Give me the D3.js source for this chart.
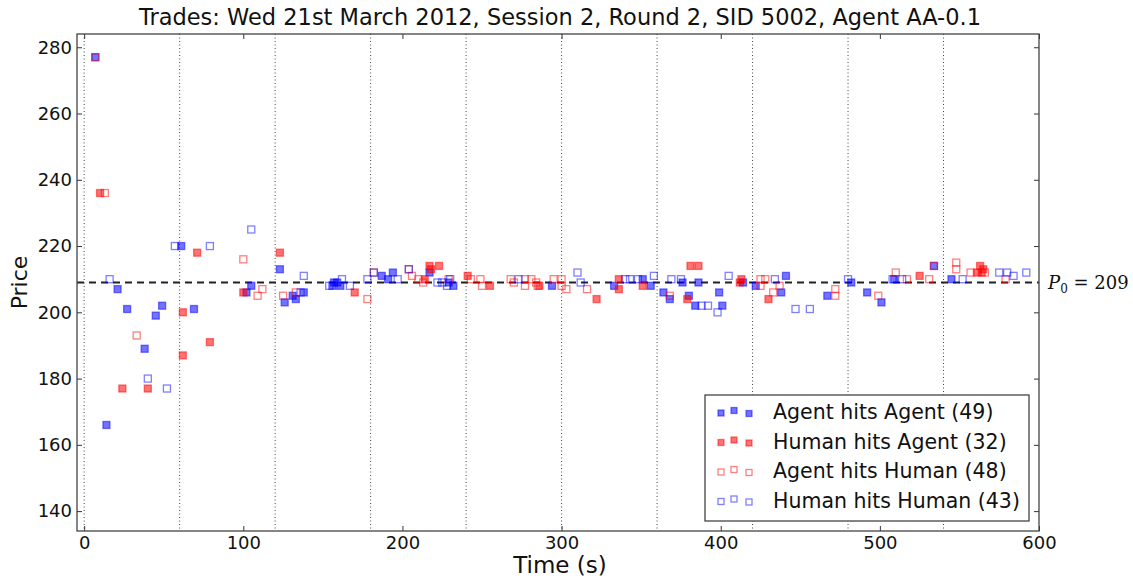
<!DOCTYPE html>
<html>
<head>
<meta charset="utf-8">
<script src="https://cdn.jsdelivr.net/npm/d3@7"></script>
<style>
  body { margin: 0; background: #fff; }
  svg { display: block; font-family: "DejaVu Sans", sans-serif; }
</style>
</head>
<body>
<svg id="chart" width="1133" height="578"></svg>
<script>
// trades as [time (s), price]
var agentHitsAgent = [
  [7, 277], [14, 166], [21, 207], [27, 201], [38, 189], [45, 199], [49, 202], [61, 220], [69, 201],
  [102, 206], [105, 208], [123, 213], [126, 203], [131, 205], [133, 204], [138, 206], [156, 208],
  [157, 209], [159, 209], [161, 208], [187, 211], [191, 210], [194, 212], [217, 212], [232, 208],
  [294, 208], [333, 208], [351, 210], [356, 208], [364, 206], [368, 204], [376, 209], [380, 205],
  [384, 202], [386, 209], [399, 206], [401, 202], [414, 209], [422, 208], [438, 206], [441, 211],
  [467, 205], [482, 209], [492, 206], [501, 203], [509, 210], [534, 214], [545, 210], [229, 209]
];
var humanHitsAgent = [
  [10, 236], [24, 177], [40, 177], [62, 200], [62, 187], [71, 218], [79, 191], [100, 206],
  [123, 218], [170, 206], [214, 210], [217, 214], [218, 213], [223, 214], [241, 211], [255, 208],
  [286, 208], [322, 204], [336, 210], [336, 207], [351, 208], [379, 204], [381, 214], [386, 214],
  [412, 209], [413, 210], [430, 204], [525, 211], [561, 212], [563, 214], [564, 212], [565, 213]
];
var agentHitsHuman = [
  [7, 277], [13, 236], [33, 193], [100, 216], [109, 205], [112, 207], [125, 205], [133, 206],
  [178, 204], [182, 212], [204, 213], [206, 211], [210, 210], [213, 209], [229, 210], [243, 210],
  [249, 210], [250, 208], [268, 210], [270, 209], [277, 210], [277, 208], [281, 210], [284, 209],
  [285, 208], [295, 210], [300, 210], [300, 208], [303, 207], [316, 207], [368, 205], [425, 210],
  [425, 208], [428, 210], [433, 206], [437, 208], [472, 207], [472, 205], [499, 205], [510, 212],
  [517, 210], [531, 210], [534, 214], [548, 215], [548, 213], [557, 212], [566, 212], [579, 210]
];
var humanHitsHuman = [
  [16, 210], [40, 180], [52, 177], [57, 220], [79, 220], [105, 225], [136, 206], [138, 211],
  [154, 208], [162, 210], [167, 208], [178, 210], [182, 212], [197, 210], [204, 213], [222, 209],
  [225, 209], [228, 208], [230, 210], [273, 210], [310, 212], [312, 209], [340, 210], [343, 210],
  [348, 210], [358, 211], [369, 210], [375, 210], [388, 202], [392, 202], [398, 200], [405, 211],
  [434, 210], [447, 201], [456, 201], [480, 210], [508, 210], [514, 210], [552, 210], [575, 212],
  [580, 212], [584, 211], [592, 212]
];

var seriesNames = ["Agent hits Agent (49)", "Human hits Agent (32)", "Agent hits Human (48)", "Human hits Human (43)"];
var xTicks = [0, 100, 200, 300, 400, 500, 600];
var yTicks = [140, 160, 180, 200, 220, 240, 260, 280];
var minuteMarks = [0, 60, 120, 180, 240, 300, 360, 420, 480, 540];
var equilibrium = 209;

var series = [
  { data: agentHitsAgent, color: "#0000ff", filled: true },
  { data: humanHitsAgent, color: "#ff0000", filled: true },
  { data: agentHitsHuman, color: "#ff0000", filled: false },
  { data: humanHitsHuman, color: "#0000ff", filled: false }
];

var width = 1133, height = 578;
var margin = { top: 34, right: 94, bottom: 47, left: 77 };

var svg = d3.select("#chart");

var x = d3.scaleLinear()
  .domain([-4.5, 600])
  .range([margin.left, width - margin.right]);

var y = d3.scaleLinear()
  .domain([134, 284])
  .range([height - margin.bottom, margin.top]);

// dotted minute lines
svg.append("g")
  .selectAll("line")
  .data(minuteMarks)
  .join("line")
  .attr("x1", d => x(d)).attr("x2", d => x(d))
  .attr("y1", margin.top).attr("y2", height - margin.bottom)
  .attr("stroke", "#444")
  .attr("stroke-width", 1)
  .attr("stroke-dasharray", "1,2.5");

// equilibrium price
svg.append("line")
  .attr("x1", x.range()[0]).attr("x2", x.range()[1])
  .attr("y1", y(equilibrium)).attr("y2", y(equilibrium))
  .attr("stroke", "#222")
  .attr("stroke-width", 1.8)
  .attr("stroke-dasharray", "7,5");

// trades
var size = 7;
series.forEach(function (s) {
  svg.append("g")
    .selectAll("rect")
    .data(s.data)
    .join("rect")
    .attr("x", d => x(d[0]) - size / 2)
    .attr("y", d => y(d[1]) - size / 2)
    .attr("width", size)
    .attr("height", size)
    .attr("fill", s.filled ? s.color : "none")
    .attr("fill-opacity", 0.55)
    .attr("stroke", s.color)
    .attr("stroke-opacity", 0.5)
    .attr("stroke-width", 1.3);
});

// axes, ticks inside on all sides
var xAxis = svg.append("g")
  .attr("transform", `translate(0,${height - margin.bottom})`)
  .call(d3.axisBottom(x).tickValues(xTicks).tickSize(-5).tickPadding(5).tickSizeOuter(0));
var yAxis = svg.append("g")
  .attr("transform", `translate(${margin.left},0)`)
  .call(d3.axisLeft(y).tickValues(yTicks).tickSize(-5).tickPadding(5).tickSizeOuter(0));
svg.append("g")
  .attr("transform", `translate(0,${margin.top})`)
  .call(d3.axisTop(x).tickValues(xTicks).tickSize(-5).tickFormat("").tickSizeOuter(0));
svg.append("g")
  .attr("transform", `translate(${width - margin.right},0)`)
  .call(d3.axisRight(y).tickValues(yTicks).tickSize(-5).tickFormat("").tickSizeOuter(0));

svg.selectAll(".domain").remove();
svg.selectAll(".tick line").attr("stroke", "#333");
[xAxis, yAxis].forEach(function (g) {
  g.selectAll("text")
    .attr("font-size", 18)
    .attr("font-family", "DejaVu Sans")
    .attr("fill", "#111");
});

// frame
svg.append("rect")
  .attr("x", x.range()[0]).attr("y", margin.top)
  .attr("width", x.range()[1] - x.range()[0])
  .attr("height", y.range()[0] - y.range()[1])
  .attr("fill", "none")
  .attr("stroke", "#444")
  .attr("stroke-width", 1.3);

// title and axis labels
svg.append("text")
  .attr("x", 560).attr("y", 25)
  .attr("text-anchor", "middle")
  .attr("font-size", 22.5)
  .attr("fill", "#111")
  .text("Trades: Wed 21st March 2012, Session 2, Round 2, SID 5002, Agent AA-0.1");

svg.append("text")
  .attr("x", 560).attr("y", 573)
  .attr("text-anchor", "middle")
  .attr("font-size", 23)
  .attr("fill", "#111")
  .text("Time (s)");

svg.append("g")
  .attr("transform", "translate(27," + ((margin.top + height - margin.bottom) / 2) + ") rotate(-90)")
  .append("text")
  .attr("text-anchor", "middle")
  .attr("font-size", 22)
  .attr("fill", "#111")
  .text("Price");

// P0 annotation
var p0 = svg.append("text")
  .attr("x", x.range()[1] + 9)
  .attr("y", y(equilibrium) + 6)
  .attr("font-family", "DejaVu Serif, serif")
  .attr("font-size", 18)
  .attr("fill", "#111");
p0.append("tspan").attr("font-style", "italic").text("P");
p0.append("tspan").attr("font-size", 12).attr("dy", 4).text("0");
p0.append("tspan").attr("dy", -4).text(" = 209");

// legend
var legend = svg.append("g").attr("transform", "translate(705,395)");
legend.append("rect")
  .attr("width", 324).attr("height", 126)
  .attr("fill", "#fff")
  .attr("stroke", "#444")
  .attr("stroke-width", 1.3);

var legendOffsets = [1, -1.5, 1.5];
var rows = legend.selectAll("g.row")
  .data(series)
  .join("g")
  .attr("class", "row")
  .attr("transform", (d, i) => "translate(0," + (17 + i * 29.5) + ")");

rows.each(function (s) {
  d3.select(this).selectAll("rect")
    .data(legendOffsets)
    .join("rect")
    .attr("x", (d, j) => [13, 26, 41][j])
    .attr("y", d => d - 3)
    .attr("width", 6).attr("height", 6)
    .attr("fill", s.filled ? s.color : "none")
    .attr("fill-opacity", 0.55)
    .attr("stroke", s.color)
    .attr("stroke-opacity", 0.5)
    .attr("stroke-width", 1.3);
});

rows.append("text")
  .attr("x", 68)
  .attr("dy", "0.35em")
  .attr("font-size", 20.5)
  .attr("fill", "#111")
  .text((d, i) => seriesNames[i]);
</script>
</body>
</html>
